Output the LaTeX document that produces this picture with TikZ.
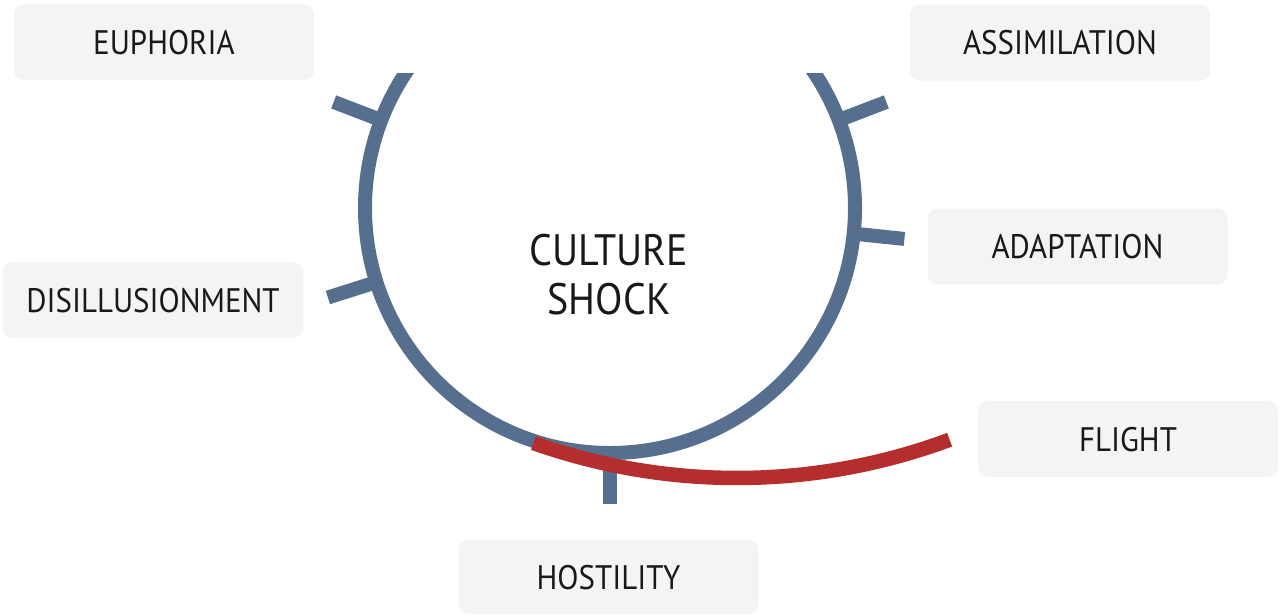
\documentclass[tikz,border=0pt]{standalone}
\usepackage{fontspec}
\setmainfont[FakeStretch=0.91]{PT Sans}
\usetikzlibrary{calc}
\begin{document}
\begin{tikzpicture}[x=1pt,y=1pt,
  ring/.style={draw=shockblue,line width=14pt},
  tick/.style={draw=shockblue,line width=14pt},
  flightarc/.style={draw=flightred,line width=14.5pt},
  stage/.style={fill=boxgray,rounded corners=10pt,minimum width=300pt,
    minimum height=76pt,inner sep=0pt,text height=24pt,text depth=0pt,
    font=\fontsize{34}{40}\selectfont,text=black!90},
  title/.style={align=center,font=\fontsize{44}{49}\selectfont,text=black!90}]
\definecolor{shockblue}{RGB}{87,111,143}
\definecolor{flightred}{RGB}{181,46,46}
\definecolor{boxgray}{RGB}{246,244,243}
\useasboundingbox (0,0) rectangle (1279,-614);

% stage labels
\node[stage] (euph) at (164,-42) {EUPHORIA};
\node[stage] (assim) at (1060,-42.5) {ASSIMILATION};
\node[stage] (adapt) at (1077.5,-246.5) {ADAPTATION};
\node[stage] (disil) at (153,-300) {DISILLUSIONMENT};
\node[stage] (flight) at (1128,-439) {FLIGHT};
\node[stage,minimum height=74pt] (host) at (608.5,-577) {HOSTILITY};

% the ring, open at the top
\coordinate (c) at (610,-208);
\begin{scope}
  \clip (0,-73) rectangle (1279,-614);
  \draw[ring] (c) circle[radius=245];
\end{scope}

% radial ticks towards each stage
\foreach \a in {159,197.6,270,354,21}
  \draw[tick] ($(c)+(\a:245)$) -- ($(c)+(\a:296)$);

% the flight branch leaving the ring
\coordinate (fc) at (737,132);
\draw[flightarc] ($(fc)+(250.5:610)$) arc[start angle=250.5,end angle=290.4,radius=610];

\node[title] (cs) at (609,-275) {CULTURE\\SHOCK};
\end{tikzpicture}
\end{document}
